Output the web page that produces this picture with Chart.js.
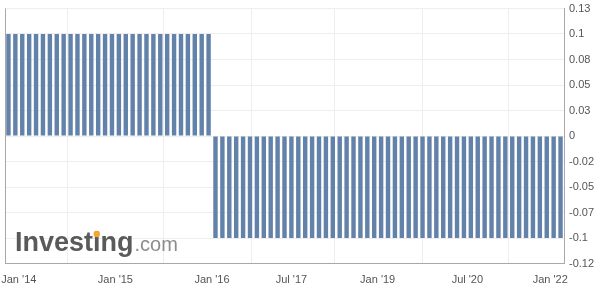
<!DOCTYPE html>
<html>
<head>
<meta charset="utf-8">
<script src="https://cdn.jsdelivr.net/npm/chart.js@4.4.1/dist/chart.umd.min.js"></script>
<style>
  html, body { margin: 0; padding: 0; background: #ffffff; }
  #rateChart { display: block; }
</style>
</head>
<body>
<canvas id="rateChart" width="601" height="296"></canvas>
<script>
// Interest rate at each policy meeting (%), oldest first
const rateValues = [
  0.1, 0.1, 0.1, 0.1, 0.1, 0.1, 0.1, 0.1, 0.1, 0.1,
  0.1, 0.1, 0.1, 0.1, 0.1, 0.1, 0.1, 0.1, 0.1, 0.1,
  0.1, 0.1, 0.1, 0.1, 0.1, 0.1, 0.1, 0.1, 0.1, 0.1,
  -0.1, -0.1, -0.1, -0.1, -0.1, -0.1, -0.1, -0.1, -0.1, -0.1,
  -0.1, -0.1, -0.1, -0.1, -0.1, -0.1, -0.1, -0.1, -0.1, -0.1,
  -0.1, -0.1, -0.1, -0.1, -0.1, -0.1, -0.1, -0.1, -0.1, -0.1,
  -0.1, -0.1, -0.1, -0.1, -0.1, -0.1, -0.1, -0.1, -0.1, -0.1,
  -0.1, -0.1, -0.1, -0.1, -0.1, -0.1, -0.1, -0.1, -0.1, -0.1,
  -0.1
];

// x axis: date labels and where they fall in the meeting sequence
const xTickLabels = ["Jan '14", "Jan '15", "Jan '16", "Jul '17", "Jan '19", "Jul '20", "Jan '22"];
const xTickPositions = [1.5, 15.5, 29.5, 41, 53.5, 66.5, 78.5];

// y axis ticks (right side)
const yTickValues = [-0.125, -0.1, -0.075, -0.05, -0.025, 0, 0.025, 0.05, 0.075, 0.1, 0.125];
const yTickLabels = ['-0.12', '-0.1', '-0.07', '-0.05', '-0.02', '0', '0.03', '0.05', '0.08', '0.1', '0.13'];

const colors = {
    bar: '#6282aa',
    grid: '#eeeeee',
    axis: '#a8a8a8',
    text: '#555555',
    logoDark: '#5a5a5a',
    logoLight: '#8c8c8c',
    logoDot: '#f2a531'
};
const fontFamily = 'Arial, "Liberation Sans", sans-serif';

// draws the left frame line and the Investing.com watermark
const framePlugin = {
    id: 'frame',
    beforeDatasetsDraw(chart) {
        const ctx = chart.ctx;
        const area = chart.chartArea;
        ctx.save();
        ctx.strokeStyle = colors.axis;
        ctx.lineWidth = 1;
        ctx.beginPath();
        ctx.moveTo(Math.round(area.left) + 0.5, area.top);
        ctx.lineTo(Math.round(area.left) + 0.5, area.bottom);
        ctx.stroke();

        // watermark
        const x = 15, y = 251;
        ctx.textBaseline = 'alphabetic';
        ctx.font = 'bold 27px ' + fontFamily;
        ctx.fillStyle = colors.logoDark;
        ctx.fillText('Investing', x, y);
        const wBefore = ctx.measureText('Invest').width;
        const wI = ctx.measureText('i').width;
        const wAll = ctx.measureText('Investing').width;
        ctx.fillStyle = colors.logoDot;
        ctx.beginPath();
        ctx.arc(x + wBefore + wI / 2, y - 17, 3.2, 0, Math.PI * 2);
        ctx.fill();
        ctx.font = '20px ' + fontFamily;
        ctx.fillStyle = colors.logoLight;
        ctx.fillText('.com', x + wAll + 1, y);
        ctx.restore();
    }
};

new Chart(document.getElementById('rateChart').getContext('2d'), {
    type: 'bar',
    data: {
        datasets: [{
            data: rateValues.map((v, i) => ({ x: i, y: v })),
            backgroundColor: colors.bar,
            borderWidth: 0,
            barPercentage: 0.64,
            categoryPercentage: 1
        }]
    },
    options: {
        responsive: false,
        animation: false,
        layout: { padding: { left: 5, top: 8.5, right: 0, bottom: 0 } },
        plugins: {
            legend: { display: false },
            tooltip: { enabled: false }
        },
        scales: {
            x: {
                type: 'linear',
                offset: false,
                min: -0.5,
                max: rateValues.length - 0.5,
                afterBuildTicks: (scale) => {
                    scale.ticks = xTickPositions.map(v => ({ value: v }));
                },
                afterFit: (scale) => {
                    scale.height = 32.5;
                    scale.paddingLeft = 0;
                    scale.paddingRight = 0;
                },
                ticks: {
                    autoSkip: false,
                    maxRotation: 0,
                    padding: 10,
                    color: colors.text,
                    font: { family: fontFamily, size: 11 },
                    callback: (value, index) => xTickLabels[index]
                },
                grid: { color: colors.grid, drawTicks: false },
                border: { color: colors.axis }
            },
            y: {
                position: 'right',
                min: -0.125,
                max: 0.125,
                afterBuildTicks: (scale) => {
                    scale.ticks = yTickValues.map(v => ({ value: v }));
                },
                afterFit: (scale) => {
                    scale.width = 37;
                    scale.paddingTop = 0;
                    scale.paddingBottom = 0;
                },
                ticks: {
                    padding: 5,
                    color: colors.text,
                    font: { family: fontFamily, size: 11 },
                    callback: (value, index) => yTickLabels[index]
                },
                grid: { color: colors.grid, drawTicks: false },
                border: { color: colors.axis }
            }
        }
    },
    plugins: [framePlugin]
});
</script>
</body>
</html>
